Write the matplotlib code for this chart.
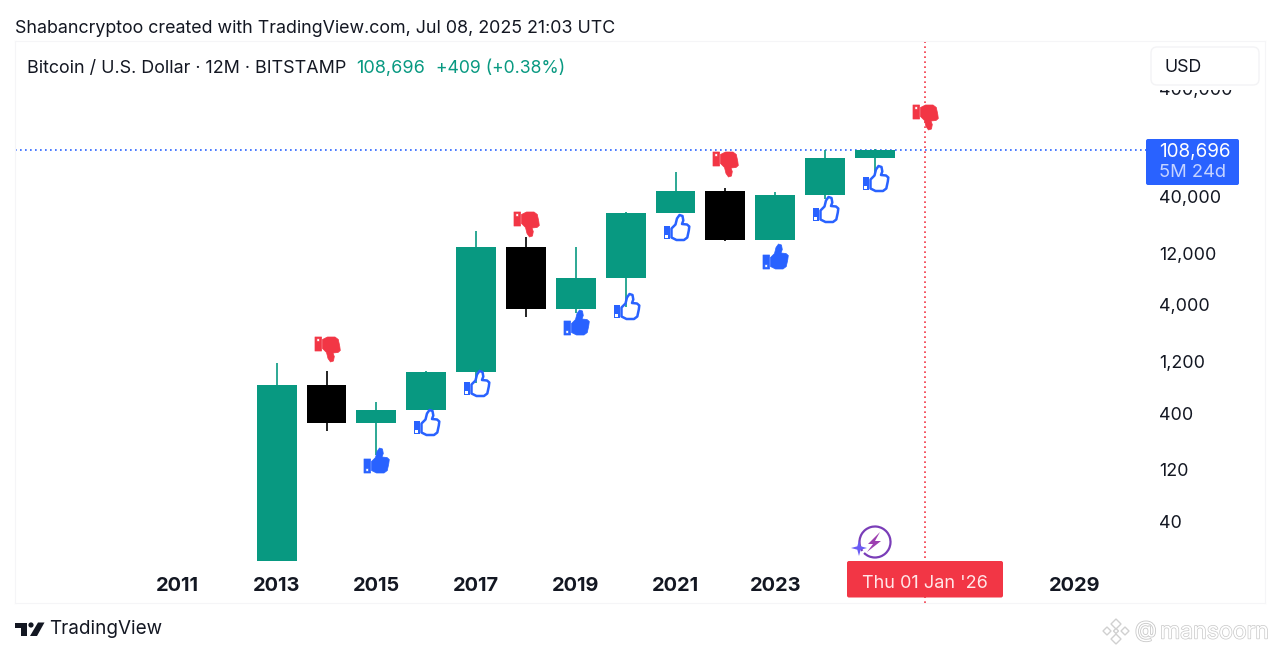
import matplotlib
matplotlib.use("Agg")
import matplotlib.pyplot as plt
import numpy as np
from matplotlib.markers import MarkerStyle
from matplotlib.patches import Arc, FancyBboxPatch, Polygon, Circle, Rectangle
from matplotlib.path import Path
import matplotlib.patheffects as pe

plt.rcParams['font.family'] = ['Inter', 'DejaVu Sans']

# yearly candles
years = [2013, 2014, 2015, 2016, 2017, 2018, 2019, 2020, 2021, 2022, 2023, 2024, 2025]
opens = [17, 726, 320, 430, 963, 13770, 3690, 7110, 28600, 45000, 16000, 41500, 92000]
highs = [1162, 980, 506, 980, 19370, 17000, 13880, 29300, 68100, 48000, 44800, 108000, 111000]
lows = [17, 272, 165, 425, 759, 3100, 3400, 3850, 28400, 15500, 16000, 38500, 66800]
closes = [726, 320, 430, 963, 13770, 3690, 7110, 28600, 45000, 16000, 41500, 92000, 108696]

last_price = 108696
cursor_year = 2026

# signal icons
down_years = [2014, 2018, 2022, 2026]
down_prices = [1567, 22500, 80800, 220300]
filled_years = [2015, 2019, 2023]
filled_prices = [147, 2785, 11370]
hollow_years = [2016, 2017, 2020, 2021, 2024, 2025]
hollow_prices = [330, 759, 3915, 21090, 30970, 60000]

y_ticks = [40, 120, 400, 1200, 4000, 12000, 40000, 400000]
y_labels = ['40', '120', '400', '1,200', '4,000', '12,000', '40,000', '400,000']
x_ticks = [2011, 2013, 2015, 2017, 2019, 2021, 2023, 2029]

GREEN = '#089981'
BLUE = '#2962ff'
RED = '#f23645'
TEXT = '#131722'

W, H = 1280, 656
L, R, T, B = 15, 1265, 41, 603


def px_year(x):
    return 2011 + (x - 177) / 49.85


def px_price(y):
    return 40000 * 10 ** ((197 - y) / 108)


fig = plt.figure(figsize=(W / 100, H / 100), dpi=100, facecolor='white')
ax = fig.add_axes([L / W, 1 - B / H, (R - L) / W, (B - T) / H])
ax.set_yscale('log')
ax.set_xlim(px_year(L), px_year(R))
ax.set_ylim(px_price(B), px_price(T))

for s in ax.spines.values():
    s.set_color('#f5f5f7')
    s.set_linewidth(0.8)

ax.yaxis.tick_right()
ax.set_yticks(y_ticks, y_labels)
ax.minorticks_off()
ax.tick_params(axis='y', length=0, pad=-(R - 1159) * 0.72, labelsize=12.9, labelcolor=TEXT)
ax.set_xticks(x_ticks, [str(v) for v in x_ticks])
ax.tick_params(axis='x', length=0, pad=-(B - 577) * 0.72, labelsize=14.4, labelcolor=TEXT)
for lab in ax.get_xticklabels():
    lab.set_fontweight('bold')

ax.axhline(last_price, xmax=(1146 - L) / (R - L), color=BLUE, lw=1.2, ls=(0, (1, 2)), zorder=1)
ax.axvline(cursor_year, color=RED, lw=1.2, ls=(0, (1, 2)), zorder=1)

colors = [GREEN if c >= o else 'black' for o, c in zip(opens, closes)]
ax.vlines(years, lows, highs, colors=colors, lw=1.2, zorder=2)
ax.bar(years, np.array(closes) - np.array(opens), bottom=opens, width=0.8, color=colors,
       zorder=3, linewidth=0)

# thumb icon, units are pixels around the centre
rect = [(-12.5, 1.5), (-6, 1.5), (-6, -12.5), (-12.5, -12.5), (-12.5, 1.5)]
dot = [(-10.6, -8), (-10.6, -10.8), (-7.9, -10.8), (-7.9, -8), (-10.6, -8)]
hand = [(-5, -1), (-1, 3), (0.5, 9), (3, 12.5), (6, 11.5), (6.8, 7), (5.5, 3.5), (10.5, 3),
        (12.8, 1), (12.3, -3), (10.8, -10), (7.5, -12.5), (0, -12.5), (-5, -10), (-5, -1)]
# stray moveto keeps every icon part at the same marker scale
stray = [(13.5, 0)]


def poly_codes(n):
    return [Path.MOVETO] + [Path.LINETO] * (n - 2) + [Path.CLOSEPOLY]


verts = rect + dot + hand + stray
codes = poly_codes(len(rect)) + poly_codes(len(dot)) + poly_codes(len(hand)) + [Path.MOVETO]
thumb_up = Path(verts, codes)
thumb_hand = Path(hand + stray, poly_codes(len(hand)) + [Path.MOVETO])
thumb_block = Path(rect + dot + stray, poly_codes(len(rect)) + poly_codes(len(dot)) + [Path.MOVETO])
thumb_down = Path([(x, -y) for x, y in verts], codes)
ms = 2 * 13.5 * 0.72

ax.plot(filled_years, filled_prices, ls='none', ms=ms, color=BLUE, mew=0.5,
        marker=MarkerStyle(thumb_up, joinstyle='round'), zorder=4)
ax.plot(hollow_years, hollow_prices, ls='none', ms=ms, mfc='none', mec=BLUE, mew=1.8,
        marker=MarkerStyle(thumb_hand, joinstyle='round'), zorder=4)
ax.plot(hollow_years, hollow_prices, ls='none', ms=ms, color=BLUE, mew=0,
        marker=MarkerStyle(thumb_block, joinstyle='round'), zorder=4)
ax.plot(down_years, down_prices, ls='none', ms=ms, color=RED, mew=0.5,
        marker=MarkerStyle(thumb_down, joinstyle='round'), zorder=4)

# everything around the chart, in pixel coordinates
ov = fig.add_axes([0, 0, 1, 1], zorder=5)
ov.set_xlim(0, W)
ov.set_ylim(H, 0)
ov.axis('off')
ov.patch.set_alpha(0)

ov.text(15, 28.5, 'Shabancryptoo created with TradingView.com, Jul 08, 2025 21:03 UTC',
        fontsize=12.85, color=TEXT, va='center')
ov.text(27, 68.5, 'Bitcoin / U.S. Dollar · 12M · BITSTAMP', fontsize=12.88, color=TEXT, va='center')
ov.text(356, 68.5, '108,696', fontsize=13, color=GREEN, va='center')
ov.text(436, 68.5, '+409 (+0.38%)', fontsize=12.7, color=GREEN, va='center')

# the box hides the top of the 400,000 label
ov.add_patch(Rectangle((1150, 80), 110, 9.5, fc='white', ec='none'))
ov.add_patch(FancyBboxPatch((1151, 47), 108, 38, boxstyle='round,pad=0,rounding_size=6',
                            fc='white', ec='#f3f3f5', lw=1))
ov.text(1164, 67.5, 'USD', fontsize=12.8, color=TEXT, va='center')

ov.add_patch(FancyBboxPatch((1146, 139), 93, 46, boxstyle='round,pad=0,rounding_size=2',
                            fc=BLUE, ec='none'))
ov.text(1159, 152, '108,696', fontsize=13.6, color='white', va='center')
ov.text(1159, 172.5, '5M 24d', fontsize=13.2, color='#c6d4ff', va='center')

ov.add_patch(FancyBboxPatch((847, 561), 156, 36.5, boxstyle='round,pad=0,rounding_size=2',
                            fc=RED, ec='none'))
ov.text(925, 583, "Thu 01 Jan '26", fontsize=13, color='#ffe6e8', va='center', ha='center')

# bolt badge
ov.add_patch(Arc((875, 542), 31, 31, theta1=-215, theta2=135, ec='#7a3db8', lw=1.6))
ov.add_patch(Polygon([(880, 532), (868, 544), (873, 544), (867, 552), (881, 541), (875, 541)],
                     fc='#9c3fb0', ec='none'))
star = [(0, 8), (1.7, 1.7), (8, 0), (1.7, -1.7), (0, -8), (-1.7, -1.7), (-8, 0), (-1.7, 1.7)]
ov.add_patch(Polygon([(859 + a, 548 + b) for a, b in star], fc='#6a5cf5', ec='none'))

# TradingView logo
ov.add_patch(Polygon([(15, 622.5), (26.5, 622.5), (26.5, 636), (20.5, 636), (20.5, 627.5), (15, 627.5)],
                     fc=TEXT, ec='none'))
ov.add_patch(Circle((31, 625), 2.6, fc=TEXT, ec='none'))
ov.add_patch(Polygon([(38, 622.5), (44.5, 622.5), (37, 636), (30, 636)], fc=TEXT, ec='none'))
ov.text(49.5, 628.5, 'TradingView', fontsize=13.6, color=TEXT, va='center')

# watermark
for cx, cy, r in [(1116, 624, 5), (1107, 631, 4), (1125, 631, 4), (1116, 639, 5), (1116, 631, 2.5)]:
    ov.add_patch(Polygon([(cx, cy - r), (cx + r, cy), (cx, cy + r), (cx - r, cy)], fc='white',
                         ec='#d0d0d0', lw=1))
ov.text(1135, 631, '@', fontsize=16, color='white', va='center',
        path_effects=[pe.withStroke(linewidth=1.2, foreground='#c8c8c8')])
ov.text(1160, 632.5, 'mansoorn', fontsize=16.6, color='white', va='center',
        path_effects=[pe.withStroke(linewidth=1.0, foreground='#c8c8c8')])

fig.savefig('out.png', dpi=100)
